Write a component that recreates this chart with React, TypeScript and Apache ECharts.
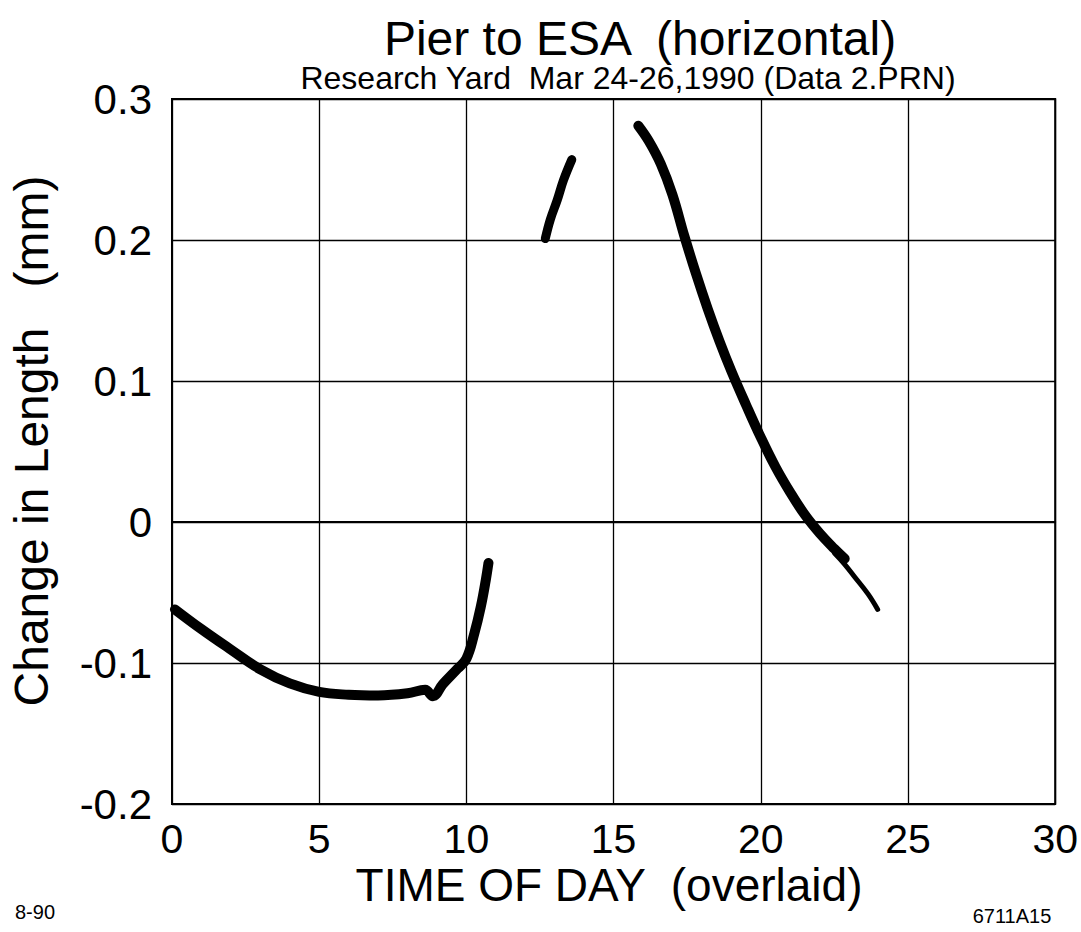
import React, { useEffect, useRef } from "react";
import * as echarts from "echarts";

// Morning segment
const seg1X = [0.1, 1, 2, 3, 4, 5, 6, 7, 8, 8.6, 8.86, 9.2, 9.7, 10.0, 10.27, 10.49, 10.66, 10.75];
const seg1Y = [-0.062, -0.076, -0.0905, -0.1045, -0.1145, -0.1205, -0.1225, -0.123, -0.1215, -0.119, -0.1235, -0.115, -0.104, -0.097, -0.079, -0.06, -0.041, -0.029];
// Short midday segment
const seg2X = [12.68, 12.85, 13.08, 13.3, 13.58];
const seg2Y = [0.201, 0.2145, 0.228, 0.2425, 0.257];
// Afternoon / evening segment
const seg3X = [15.84, 16.2, 16.6, 17.0, 17.4, 17.8, 18.2, 18.6, 19.0, 19.5, 20.0, 20.5, 21.0, 21.5, 22.0, 22.5, 22.85];
const seg3Y = [0.281, 0.27, 0.254, 0.232, 0.203, 0.176, 0.151, 0.128, 0.107, 0.083, 0.06, 0.039, 0.021, 0.005, -0.008, -0.019, -0.026];
// Thin tail
const seg4X = [22.5, 22.85, 23.19, 23.64, 23.97];
const seg4Y = [-0.022, -0.03, -0.039, -0.051, -0.062];

const xTicks = [0, 5, 10, 15, 20, 25, 30];
const yTicks = [-0.2, -0.1, 0, 0.1, 0.2, 0.3];

const FONT = '"Liberation Sans", Arial, Helvetica, sans-serif';

const zip = (xs: number[], ys: number[]) => xs.map((x, i) => [x, ys[i]]);

export default function App() {
  const ref = useRef<HTMLDivElement>(null);
  useEffect(() => {
    if (!ref.current) return;
    const chart = echarts.init(ref.current, undefined, { renderer: "svg" });
    const lineSeries = (data: number[][], w: number) => ({
      type: "line",
      data,
      showSymbol: false,
      smooth: 0.4,
      lineStyle: { color: "#000", width: w, cap: "round", join: "round" },
      silent: true,
    });
    const txt = (text: string, x: number, y: number, size: number, rotation = 0) => ({
      type: "text",
      x,
      y,
      rotation,
      style: {
        text,
        font: `${size}px ${FONT}`,
        fill: "#000",
        textAlign: "center",
        textVerticalAlign: "middle",
      },
    });
    chart.setOption({
      animation: false,
      backgroundColor: "#fff",
      grid: {
        left: 172,
        top: 99,
        width: 890,
        height: 705,
        show: true,
        borderColor: "#000",
        borderWidth: 2,
        backgroundColor: "transparent",
      },
      xAxis: {
        type: "value",
        min: xTicks[0],
        max: xTicks[xTicks.length - 1],
        interval: 5,
        axisLine: { show: true, lineStyle: { color: "#000", width: 2 } },
        axisTick: { show: false },
        axisLabel: { fontFamily: FONT, fontSize: 41, color: "#000", margin: 14 },
        splitLine: { show: true, lineStyle: { color: "#000", width: 1.3 } },
      },
      yAxis: {
        type: "value",
        min: yTicks[0],
        max: yTicks[yTicks.length - 1],
        interval: 0.1,
        axisLine: { show: true, lineStyle: { color: "#000", width: 2 } },
        axisTick: { show: false },
        axisLabel: {
          fontFamily: FONT,
          fontSize: 42,
          color: "#000",
          margin: 20,
          formatter: (v: number) => String(Math.round(v * 10) / 10),
        },
        splitLine: { show: true, lineStyle: { color: "#000", width: 1.3 } },
      },
      graphic: [
        txt("Pier to ESA  (horizontal)", 640, 38, 48),
        txt("Research Yard  Mar 24-26,1990 (Data 2.PRN)", 628, 78, 32),
        txt("Change in Length   (mm)", 31, 441, 48, Math.PI / 2),
        txt("TIME OF DAY  (overlaid)", 609, 885, 46),
        txt("8-90", 35, 912, 20),
        txt("6711A15", 1012, 916, 20),
      ],
      series: [
        lineSeries(zip(seg1X, seg1Y), 10),
        lineSeries(zip(seg2X, seg2Y), 9),
        lineSeries(zip(seg3X, seg3Y), 10),
        lineSeries(zip(seg4X, seg4Y), 5),
      ],
    });
    return () => chart.dispose();
  }, []);
  return (
    <div
      ref={ref}
      style={{ position: "absolute", left: 0, top: 0, width: 1081, height: 932, background: "#fff" }}
    />
  );
}
